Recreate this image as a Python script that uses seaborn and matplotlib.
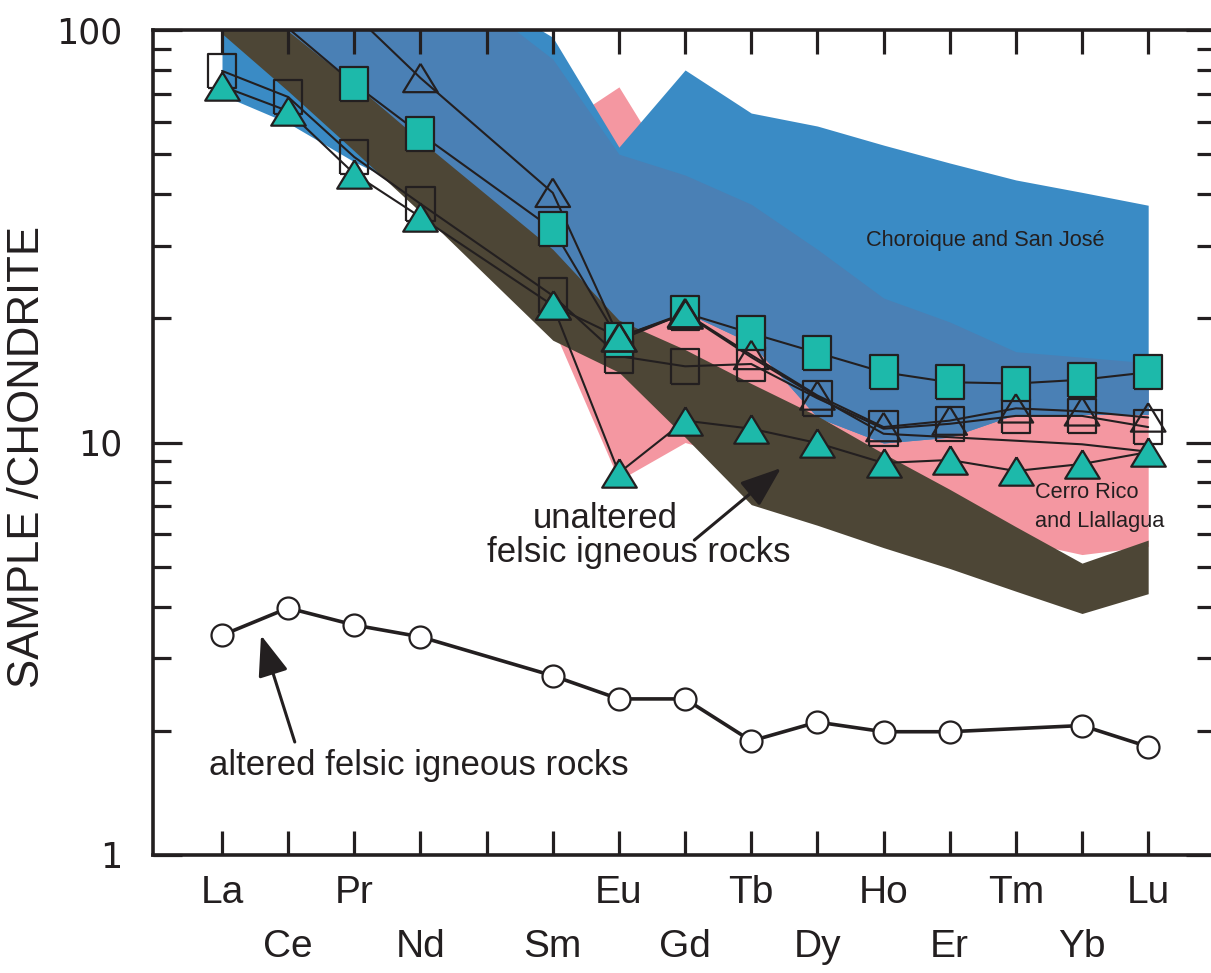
import numpy as np
import pandas as pd
import matplotlib
matplotlib.use("Agg")
import matplotlib.pyplot as plt
from matplotlib.ticker import LogLocator, NullFormatter
import seaborn as sns

sns.set_theme(style="white")
plt.rcParams['font.family'] = ['Liberation Sans', 'DejaVu Sans']

nan = np.nan

# REE order on the x axis (Pm has no analyses)
elements = ['La', 'Ce', 'Pr', 'Nd', 'Pm', 'Sm', 'Eu', 'Gd', 'Tb', 'Dy', 'Ho', 'Er', 'Tm', 'Yb', 'Lu']

# sample/chondrite values, nan = no point
sq_fill = [nan, 101, 74.0, 56.0, nan, 32.9, 17.7, 20.6, 18.4, 16.5, 14.8, 14.0, 13.9, 14.2, 14.8]
sq_open = [79.6, 68.8, 49.2, 37.9, nan, 22.7, 16.2, 15.3, 15.5, 12.8, 10.8, 11.1, 11.6, 11.6, 10.9]
tri_open = [nan, nan, 109, 76.5, nan, 40.3, 18.0, 20.6, 16.3, 13.0, 10.9, 11.3, 12.1, 11.9, 11.5]
tri_fill_a = [73.1, 63.6, 44.8, 35.2, nan, 21.5, 18.0, 20.5, nan, nan, nan, nan, nan, nan, nan]
tie_line = [nan, nan, nan, nan, nan, nan, nan, 20.5, 16.1, 12.9, 10.5, 10.3, 10.1, 9.9, 9.5]
tri_fill_b = [nan, nan, nan, nan, nan, 21.5, 8.44, 11.3, 10.8, 9.97, 8.92, 9.07, 8.53, 8.87, 9.48]
altered = [3.41, 3.97, 3.61, 3.38, nan, 2.72, 2.39, 2.39, 1.89, 2.10, 1.99, 1.99, nan, 2.06, 1.83]

# shaded fields (lower / upper limits), Pm left out
field_elements = ['La', 'Ce', 'Pr', 'Nd', 'Sm', 'Eu', 'Gd', 'Tb', 'Dy', 'Ho', 'Er', 'Tm', 'Yb', 'Lu']
blue_lo = [69.6, 59.5, 47.9, 40, 22, 17.7, 20.7, 17.4, 11.5, 9.97, 10.3, 11.7, 11.7, 11.7]
blue_hi = [150, 150, 150, 150, 96, 52, 80, 62.9, 58.5, 52.6, 47.6, 43.3, 40.4, 37.6]
steel_lo = [105, 75, 60, 45, 22, 17.7, 20.7, 17.4, 11.5, 9.97, 10.3, 11.7, 11.7, 11.7]
steel_hi = [150, 150, 150, 150, 85, 50, 44.5, 37.8, 29.4, 22.4, 19.6, 16.6, 16.1, 15.6]
band_lo = [98, 71.1, 50.9, 36.2, 17.7, 14.8, 10.3, 7.07, 6.3, 5.56, 4.95, 4.36, 3.85, 4.3]
band_hi = [130, 99.4, 74, 54, 29.4, 19.8, 16.8, 13.9, 11.6, 9.4, 7.7, 6.25, 5.1, 5.8]
pink_elements = ['Sm', 'Eu', 'Gd', 'Tb', 'Dy', 'Ho', 'Er', 'Tm', 'Yb', 'Lu']
pink_lo = [19, 8.1, 10.0, 9, 8, 7, 6.3, 5.8, 5.35, 5.6]
pink_hi = [57, 72.8, 40, 25, 22, 19, 17, 16, 15.5, 14.8]

ink = '#231F20'
teal = '#1DB9AA'

xs = np.arange(len(elements))
fx = [elements.index(e) for e in field_elements]
px = [elements.index(e) for e in pink_elements]

fig = plt.figure(figsize=(12.11, 9.73), dpi=100)
ax = fig.add_axes([153 / 1211, 118 / 973, 1062 / 1211, 825 / 973])
ax.set_yscale('log')
ax.set_axisbelow(False)

# fields
ax.fill_between(px, pink_lo, pink_hi, color='#F497A1', lw=0, zorder=1.0)
ax.fill_between(fx, blue_lo, blue_hi, color='#3A8BC5', lw=0, zorder=1.1)
ax.fill_between(fx, steel_lo, steel_hi, color='#4A80B5', lw=0, zorder=1.2)
ax.fill_between(fx, band_lo, band_hi, color='#4D4636', lw=0, zorder=1.3)

rect = [(-0.41, -0.5), (0.41, -0.5), (0.41, 0.5), (-0.41, 0.5), (-0.41, -0.5)]
tri = [(0, 0.41), (-0.5, -0.41), (0.5, -0.41), (0, 0.41)]


def series(values, lw=1.5):
    d = pd.DataFrame({'x': xs, 'y': values}).dropna()
    sns.lineplot(data=d, x='x', y='y', color=ink, lw=lw, estimator=None,
                 errorbar=None, sort=False, ax=ax, zorder=3, legend=False)
    return d[d['y'] <= 100]


def marks(d, marker, size, face, z):
    sns.scatterplot(data=d, x='x', y='y', marker=marker, s=size, facecolor=face,
                    edgecolor=ink, linewidth=1.6, ax=ax, zorder=z, legend=False)


d_sq_open = series(sq_open)
d_sq_fill = series(sq_fill)
d_tri_a = series(tri_fill_a)
d_tri_b = series(tri_fill_b)
d_tri_open = series(tri_open)
series(tie_line)
d_alt = series(altered, lw=2.6)

marks(d_sq_open, rect, 620, 'none', 4.0)
marks(d_sq_fill, rect, 620, teal, 4.1)
marks(d_tri_a, tri, 620, teal, 4.2)
marks(d_tri_b, tri, 620, teal, 4.3)
marks(d_tri_open, tri, 620, 'none', 4.4)
marks(d_alt, 'o', 250, 'white', 4.5)

# axes
ax.set_xlim(-1.043, 15.01)
ax.set_ylim(1, 100)
ax.set_xticks(xs)
labels = []
for i, e in enumerate(elements):
    if e == 'Pm':
        labels.append('')
    elif i % 2 == 0:
        labels.append(e)
    else:
        labels.append('\n' + e)
ax.set_xticklabels(labels, fontsize=28, color=ink)
for t in ax.get_xticklabels():
    t.set_linespacing(1.65)
ax.set_yticks([1, 10, 100])
ax.set_yticklabels(['1', '10', '100'], fontsize=25, color=ink, family='DejaVu Sans')
ax.yaxis.set_minor_locator(LogLocator(base=10, subs=np.arange(2, 10)))
ax.yaxis.set_minor_formatter(NullFormatter())
ax.set_xlabel('')
ax.set_ylabel('')

ax.tick_params(axis='x', which='major', direction='in', length=17, width=2.3,
               top=True, bottom=True, pad=14.5, color=ink)
ax.tick_params(axis='y', which='major', direction='in', length=21, width=2.3,
               left=True, right=True, pad=22, color=ink)
ax.tick_params(axis='y', which='minor', direction='in', length=13, width=2.3,
               left=True, right=True, color=ink)
for side in ['left', 'top', 'bottom']:
    ax.spines[side].set_linewidth(2.6)
    ax.spines[side].set_color(ink)
ax.spines['right'].set_visible(False)

fig.text(28 / 1211, 1 - 457 / 973, 'SAMPLE /CHONDRITE', rotation=90,
         ha='center', va='center', fontsize=31.5, color=ink)

# labels and arrows
ax.text(11.54, 30.8, 'Choroique and San José', fontsize=15.7, color=ink,
        ha='center', va='center', zorder=6)
ax.text(12.29, 6.98, 'Cerro Rico\nand Llallagua', fontsize=15.7, color=ink,
        ha='left', va='center', linespacing=1.5, zorder=6)
ax.text(5.79, 6.56, 'unaltered', fontsize=25, color=ink, ha='center', va='center', zorder=6)
ax.text(6.30, 5.40, 'felsic igneous rocks', fontsize=25, color=ink, ha='center', va='center', zorder=6)
ax.text(2.98, 1.644, 'altered felsic igneous rocks', fontsize=25, color=ink,
        ha='center', va='center', zorder=6)

arrow = dict(arrowstyle='-|>,head_length=0.4,head_width=0.15', mutation_scale=63,
             lw=2.2, color=ink, shrinkA=0, shrinkB=0)
ax.annotate('', xy=(8.45, 8.67), xytext=(7.14, 5.80), arrowprops=arrow, zorder=6)
ax.annotate('', xy=(0.59, 3.41), xytext=(1.10, 1.879), arrowprops=arrow, zorder=6)

fig.savefig('out.png', dpi=100)
